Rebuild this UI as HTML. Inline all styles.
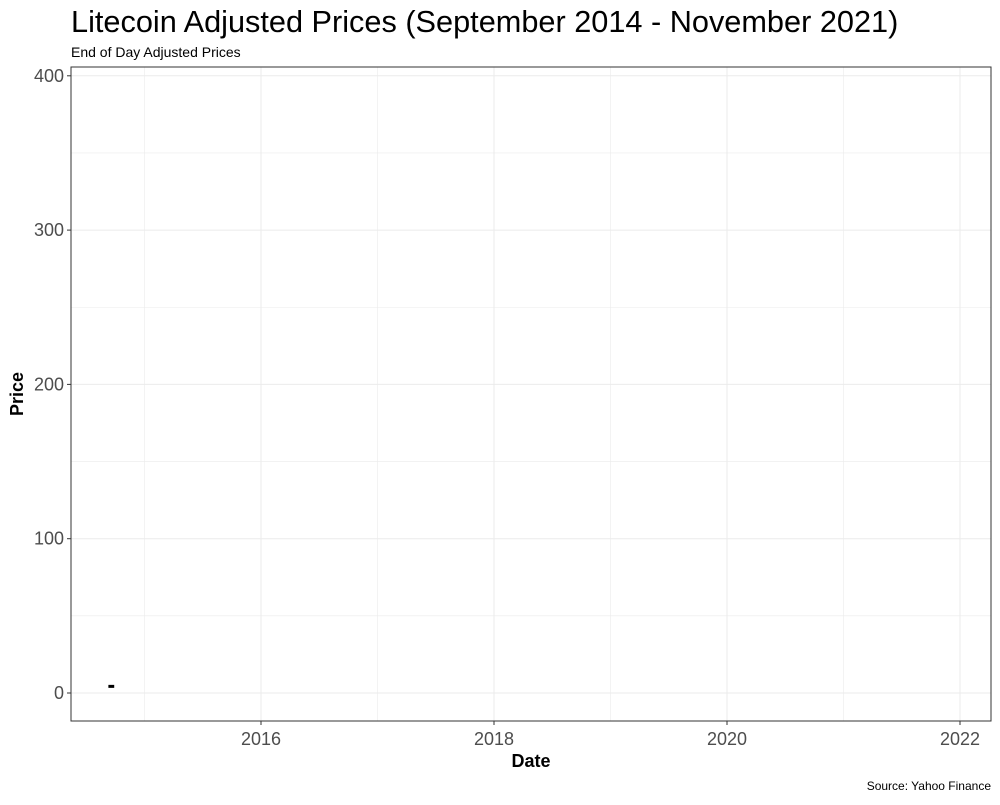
<!DOCTYPE html>
<html><head><meta charset="utf-8"><style>
body{margin:0;background:#fff;font-family:"Liberation Sans",sans-serif}
</style></head><body>
<svg id="chart" width="1000" height="800" xmlns="http://www.w3.org/2000/svg" font-family="Liberation Sans, sans-serif">
<text x="71" y="32" font-size="30.7">Litecoin Adjusted Prices (September 2014 - November 2021)</text>
<text x="71" y="57" font-size="14">End of Day Adjusted Prices</text>
<g id="grid"></g>
<g id="marks"></g>
<rect x="71" y="67" width="920" height="654" fill="none" stroke="#333" stroke-width="1"/>
<g id="axes"></g>
<text x="531" y="767" font-size="18" font-weight="bold" text-anchor="middle">Date</text>
<text transform="translate(23,394) rotate(-90)" font-size="18" font-weight="bold" text-anchor="middle">Price</text>
<text x="991" y="790" font-size="12" text-anchor="end">Source: Yahoo Finance</text>
</svg>
<script>
const yTicks=[0,100,200,300,400];
const xTicks=[2016,2018,2020,2022];
const dates=[2014.69,2014.74];
const prices=[4.3,4.3];
const NS="http://www.w3.org/2000/svg";
const X=v=>261+(v-2016)*116.5;
const Y=v=>693-v*1.543;
const grid=document.getElementById('grid'),axes=document.getElementById('axes'),marks=document.getElementById('marks');
function mk(t,a,p){const e=document.createElementNS(NS,t);for(const k in a)e.setAttribute(k,a[k]);p.appendChild(e);return e;}
for(let v=-50;v<=400;v+=50){const y=Y(v);if(y<67||y>721)continue;const l=mk('line',{x1:71,x2:991,y1:y,y2:y,stroke:'#ebebeb','stroke-width':v%100===0?1:0.6},grid);

}
for(let v=2015;v<=2022;v++){const x=X(v);const l=mk('line',{x1:x,x2:x,y1:67,y2:721,stroke:'#ebebeb','stroke-width':v%2===0?1:0.6},grid);

}
yTicks.forEach(v=>{const y=Y(v);mk('line',{x1:67,x2:71,y1:y,y2:y,stroke:'#333'},axes);
const t=mk('text',{x:64,y:y+6,'font-size':18,fill:'#4d4d4d','text-anchor':'end'},axes);t.textContent=v;

});
xTicks.forEach(v=>{const x=X(v);mk('line',{x1:x,x2:x,y1:721,y2:725,stroke:'#333'},axes);
const t=mk('text',{x:x,y:745,'font-size':18,fill:'#4d4d4d','text-anchor':'middle'},axes);t.textContent=v;

});
const p=mk('polyline',{points:dates.map((d,i)=>X(d)+','+Y(prices[i])).join(' '),fill:'none',stroke:'#000','stroke-width':3},marks);


</script>
</body></html>
